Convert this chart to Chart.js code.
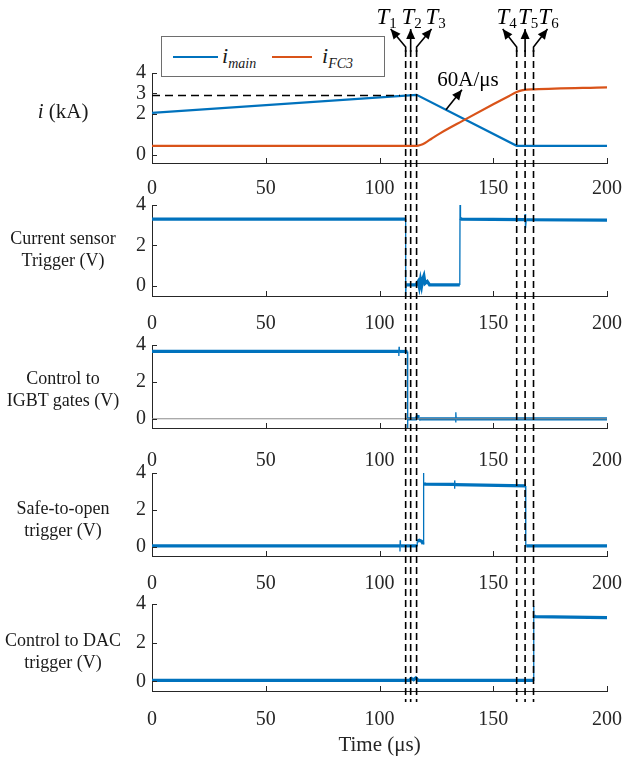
<!DOCTYPE html>
<html>
<head>
<meta charset="utf-8">
<script src="https://cdn.jsdelivr.net/npm/chart.js@4.4.1/dist/chart.umd.min.js"></script>
<style>
  body { margin: 0; background: #fff; }
  #wrap {
    position: relative;
    width: 625px;
    height: 758px;
    overflow: hidden;
    font-family: 'Liberation Serif', 'Times New Roman', serif;
    color: #1a1a1a;
  }
  canvas { position: absolute; left: 0; }
  .side {
    position: absolute;
    left: -4px;
    width: 134px;
    text-align: center;
    font-size: 18px;
    line-height: 22px;
  }
  #legend {
    position: absolute;
    left: 161px;
    top: 36px;
    width: 224px;
    height: 41px;
    border: 1px solid #6e6e6e;
    background: #fff;
    box-sizing: border-box;
  }
  .lline { position: absolute; top: 19px; height: 1.5px; }
  .ltxt { position: absolute; top: 6px; font-size: 22px; font-style: italic; }
  .ltxt sub { font-size: 14px; }
</style>
</head>
<body>
<div id="wrap">
  <canvas id="c1" width="625" height="200" style="top:0px"></canvas>
  <canvas id="c2" width="625" height="148" style="top:186px"></canvas>
  <canvas id="c3" width="625" height="151" style="top:320px"></canvas>
  <canvas id="c4" width="625" height="137" style="top:457px"></canvas>
  <canvas id="c5" width="625" height="178" style="top:580px"></canvas>

  <div id="legend">
    <span class="lline" style="left:11px;width:45px;background:#0072BD"></span>
    <span class="ltxt" style="left:60px">i<sub>main</sub></span>
    <span class="lline" style="left:110px;width:40px;background:#D95319"></span>
    <span class="ltxt" style="left:160px">i<sub>FC3</sub></span>
  </div>

  <div class="side" style="top:100px;font-size:21px"><i>i</i> (kA)</div>
  <div class="side" style="top:227px">Current sensor<br>Trigger (V)</div>
  <div class="side" style="top:367px">Control to<br>IGBT gates (V)</div>
  <div class="side" style="top:497px">Safe-to-open<br>trigger (V)</div>
  <div class="side" style="top:629px">Control to DAC<br>trigger (V)</div>
</div>

<script>
// Time axis (µs) and the six event markers
const xTicks = [0, 50, 100, 150, 200]
const tTimes = [111.5, 113.7, 116.3, 160.3, 164, 167.7]
const tNames = ['1', '2', '3', '4', '5', '6']

// Panel 1 - currents (kA)
const mainTime = [0, 116.3, 160.3, 200]
const mainCurrent = [2.05, 2.93, 0.44, 0.44]
const fc3Time = [0, 116.3, 118, 120, 123, 126.6, 136.7, 150, 157, 160.3, 163, 168, 200]
const fc3Current = [0.44, 0.44, 0.48, 0.58, 0.8, 1.05, 1.67, 2.47, 2.88, 3.07, 3.16, 3.2, 3.3]
const refTime = [0, 109]
const refCurrent = [2.9, 2.9]
const currentTicks = [0, 2, 3, 4]

// Panel 2 - current sensor trigger (V)
const sensorTime = [0, 111.5, 111.5, 111.7, 116, 117, 117.5, 118, 118.5, 119, 119.5, 120, 121, 122, 135.3, 135.4, 135.6, 136, 163.8, 164, 164.2, 164.5, 200]
const sensorVolt = [3.3, 3.3, -0.5, 0.05, 0.05, 0.22, -0.05, 0.3, 0, 0.35, 0.5, 0.12, 0.22, 0.05, 0.05, 4.0, 3.35, 3.3, 3.28, 3.55, 2.85, 3.27, 3.25]

// Panel 3 - control to IGBT gates (V)
const igbtTime = [0, 108.5, 108.5, 108.6, 108.7, 112.3, 112.3, 112.5, 116, 117, 117.3, 118, 133.5, 133.5, 133.6, 133.7, 200]
const igbtVolt = [3.65, 3.65, 3.4, 3.9, 3.65, 3.65, -0.5, 0, 0, 0.2, -0.05, 0, 0, -0.2, 0.35, 0, 0]
const zeroTime = [0, 200]
const zeroVolt = [0, 0]

// Panel 4 - safe-to-open trigger (V)
const safeTime = [0, 109, 109, 109.1, 109.2, 116.5, 116.6, 117.5, 118.5, 119.2, 119.3, 119.5, 120, 133, 133, 133.1, 133.2, 164.2, 164.3, 164.5, 200]
const safeVolt = [0.05, 0.05, -0.25, 0.35, 0.05, 0.05, 0.3, 0.35, 0.3, 0.15, 4.0, 3.45, 3.4, 3.38, 3.15, 3.6, 3.37, 3.3, 0.05, 0.05, 0.05]

// Panel 5 - control to DAC trigger (V)
const dacTime = [0, 113, 114, 115, 116, 117, 167.6, 167.7, 167.9, 168.3, 200]
const dacVolt = [0.05, 0.05, 0.15, 0.08, 0.18, 0.05, 0.05, 3.9, 3.4, 3.35, 3.3]
const voltTicks = [0, 2, 4]

// Slope note on the falling main current
const slopeNote = { x: 129.2, y: 2.2, text: '60A/μs' }

const blue = '#0072BD'
const orange = '#D95319'
const axisColor = '#262626'
const dashPattern = [7, 4]
const dashTop = 50

Chart.defaults.font.family = "'Liberation Serif', 'Times New Roman', serif"
Chart.defaults.color = axisColor

function toPoints(times, values) {
  return times.map((t, i) => ({ x: t, y: values[i] }))
}

// fast edges and spikes are drawn thin like on the scope
function trace(times, values, color, width, extra) {
  return Object.assign({
    data: toPoints(times, values),
    borderColor: color,
    borderWidth: width,
    pointRadius: 0,
    fill: false,
    tension: 0,
    segment: {
      borderWidth: c => (Math.abs(c.p1.parsed.x - c.p0.parsed.x) < 0.35 ? 1.3 : width)
    }
  }, extra || {})
}

// Dashed event lines, drawn over the traces
const tLines = {
  id: 'tLines',
  afterDatasetsDraw(chart, args, opts) {
    const ctx = chart.ctx
    const xs = chart.scales.x
    ctx.save()
    ctx.strokeStyle = '#000'
    ctx.lineWidth = 1.6
    ctx.setLineDash(dashPattern)
    ctx.lineDashOffset = opts.dashOffset
    tTimes.forEach(t => {
      const px = xs.getPixelForValue(t)
      ctx.beginPath()
      ctx.moveTo(px, opts.from)
      ctx.lineTo(px, opts.to)
      ctx.stroke()
    })
    ctx.restore()
  }
}

// Matlab style tick marks pointing into the axes
const innerTicks = {
  id: 'innerTicks',
  afterDraw(chart) {
    const { ctx, chartArea, scales } = chart
    ctx.save()
    ctx.strokeStyle = axisColor
    ctx.lineWidth = 1
    ctx.beginPath()
    scales.x.ticks.forEach(t => {
      const px = Math.round(scales.x.getPixelForValue(t.value)) + 0.5
      ctx.moveTo(px, chartArea.bottom)
      ctx.lineTo(px, chartArea.bottom - 5)
    })
    scales.y.ticks.forEach(t => {
      const py = Math.round(scales.y.getPixelForValue(t.value)) + 0.5
      ctx.moveTo(chartArea.left, py)
      ctx.lineTo(chartArea.left + 5, py)
    })
    ctx.stroke()
    ctx.restore()
  }
}

function arrowHead(ctx, fromX, fromY, tipX, tipY) {
  const a = Math.atan2(tipY - fromY, tipX - fromX)
  const len = 10
  const half = 4.5
  ctx.beginPath()
  ctx.moveTo(tipX, tipY)
  ctx.lineTo(tipX - len * Math.cos(a) + half * Math.sin(a), tipY - len * Math.sin(a) - half * Math.cos(a))
  ctx.lineTo(tipX - len * Math.cos(a) - half * Math.sin(a), tipY - len * Math.sin(a) + half * Math.cos(a))
  ctx.closePath()
  ctx.fill()
}

// T1..T6 arrows and names, plus the slope note
const arrowDx = [-15, 0, 15, -14, 0, 14]
const labelDx = [-19, 1, 19, -10, 3, 15]
const markers = {
  id: 'markers',
  afterDraw(chart) {
    const ctx = chart.ctx
    const xs = chart.scales.x
    const ys = chart.scales.y
    ctx.save()
    ctx.strokeStyle = '#000'
    ctx.fillStyle = '#000'
    ctx.lineWidth = 1.6
    tTimes.forEach((t, i) => {
      const px = xs.getPixelForValue(t)
      const tipX = px + arrowDx[i]
      ctx.beginPath()
      ctx.moveTo(px, dashTop + 2)
      ctx.lineTo(px, 47)
      ctx.lineTo(tipX, 29)
      ctx.stroke()
      arrowHead(ctx, px, 47, tipX, 29)

      // name: italic T with an upright subscript
      ctx.font = 'italic 23px "Liberation Serif"'
      const wT = ctx.measureText('T').width
      ctx.font = '15px "Liberation Serif"'
      const wS = ctx.measureText(tNames[i]).width
      const left = px + labelDx[i] - (wT + wS) / 2
      ctx.textBaseline = 'alphabetic'
      ctx.textAlign = 'left'
      ctx.font = 'italic 23px "Liberation Serif"'
      ctx.fillText('T', left, 24)
      ctx.font = '15px "Liberation Serif"'
      ctx.fillText(tNames[i], left + wT, 28)
    })

    const ax = xs.getPixelForValue(slopeNote.x)
    const ay = ys.getPixelForValue(slopeNote.y)
    ctx.beginPath()
    ctx.moveTo(ax, ay)
    ctx.lineTo(ax + 16, ay - 20)
    ctx.stroke()
    arrowHead(ctx, ax, ay, ax + 16, ay - 20)
    ctx.font = '21px "Liberation Serif"'
    ctx.textAlign = 'center'
    ctx.textBaseline = 'middle'
    ctx.fillText(slopeNote.text, ax + 22, ay - 29)
    ctx.restore()
  }
}

function makePanel(id, p) {
  const canvas = document.getElementById(id)
  const top = parseFloat(canvas.style.top)
  const h = canvas.height
  const padTop = p.plotTop - top
  const xHeight = top + h - p.plotBottom
  const plugins = [tLines, innerTicks]
  if (p.markers) plugins.push(markers)

  return new Chart(canvas, {
    type: 'line',
    data: { datasets: p.datasets },
    plugins: plugins,
    options: {
      responsive: false,
      animation: false,
      devicePixelRatio: 1,
      layout: { padding: { left: 0, right: 18, top: padTop, bottom: 0 } },
      plugins: {
        legend: { display: false },
        tooltip: { enabled: false },
        tLines: {
          from: p.dashFrom - top,
          to: (p.dashTo !== undefined ? p.dashTo : top + h) - top,
          dashOffset: (p.dashFrom - dashTop) % 11
        }
      },
      scales: {
        x: {
          type: 'linear',
          min: 0,
          max: 200,
          afterBuildTicks: s => { s.ticks = xTicks.map(v => ({ value: v })) },
          grid: { display: false, drawTicks: false },
          border: { display: true, color: axisColor, width: 1 },
          ticks: { padding: p.labelPad, font: { size: 20 }, color: axisColor, maxRotation: 0 },
          title: p.title
            ? { display: true, text: p.title, font: { size: 21 }, color: axisColor, padding: { top: 0, bottom: 0 } }
            : { display: false },
          afterFit: s => {
            s.height = xHeight
            s.paddingLeft = 0
            s.paddingRight = 0
          }
        },
        y: {
          min: p.yMin,
          max: 4,
          afterBuildTicks: s => { s.ticks = p.yTicks.map(v => ({ value: v })) },
          grid: { display: false, drawTicks: false },
          border: { display: true, color: axisColor, width: 1 },
          ticks: { padding: 6, font: { size: 20 }, color: axisColor },
          afterFit: s => {
            s.width = 152
            s.paddingTop = 0
            s.paddingBottom = 0
          }
        }
      }
    }
  })
}

makePanel('c1', {
  plotTop: 73, plotBottom: 163, yMin: -0.4, yTicks: currentTicks, labelPad: 14, markers: true,
  dashFrom: 50,
  datasets: [
    trace(refTime, refCurrent, '#000', 1.5, { borderDash: [8, 5] }),
    trace(fc3Time, fc3Current, orange, 2.2, { cubicInterpolationMode: 'monotone' }),
    trace(mainTime, mainCurrent, blue, 2.2)
  ]
})

makePanel('c2', {
  plotTop: 205, plotBottom: 296, yMin: -0.5, yTicks: voltTicks, labelPad: 16,
  dashFrom: 200,
  datasets: [trace(sensorTime, sensorVolt, blue, 3.2)]
})

makePanel('c3', {
  plotTop: 345, plotBottom: 428, yMin: -0.5, yTicks: voltTicks, labelPad: 21,
  dashFrom: 334,
  datasets: [
    trace(zeroTime, zeroVolt, '#8c8c8c', 1),
    trace(igbtTime, igbtVolt, blue, 3.2)
  ]
})

makePanel('c4', {
  plotTop: 473, plotBottom: 556, yMin: -0.5, yTicks: voltTicks, labelPad: 16,
  dashFrom: 471,
  datasets: [trace(safeTime, safeVolt, blue, 3.2)]
})

makePanel('c5', {
  plotTop: 604, plotBottom: 691, yMin: -0.5, yTicks: voltTicks, labelPad: 17, title: 'Time (μs)',
  dashFrom: 594, dashTo: 702,
  datasets: [trace(dacTime, dacVolt, blue, 3.2)]
})
</script>
</body>
</html>
